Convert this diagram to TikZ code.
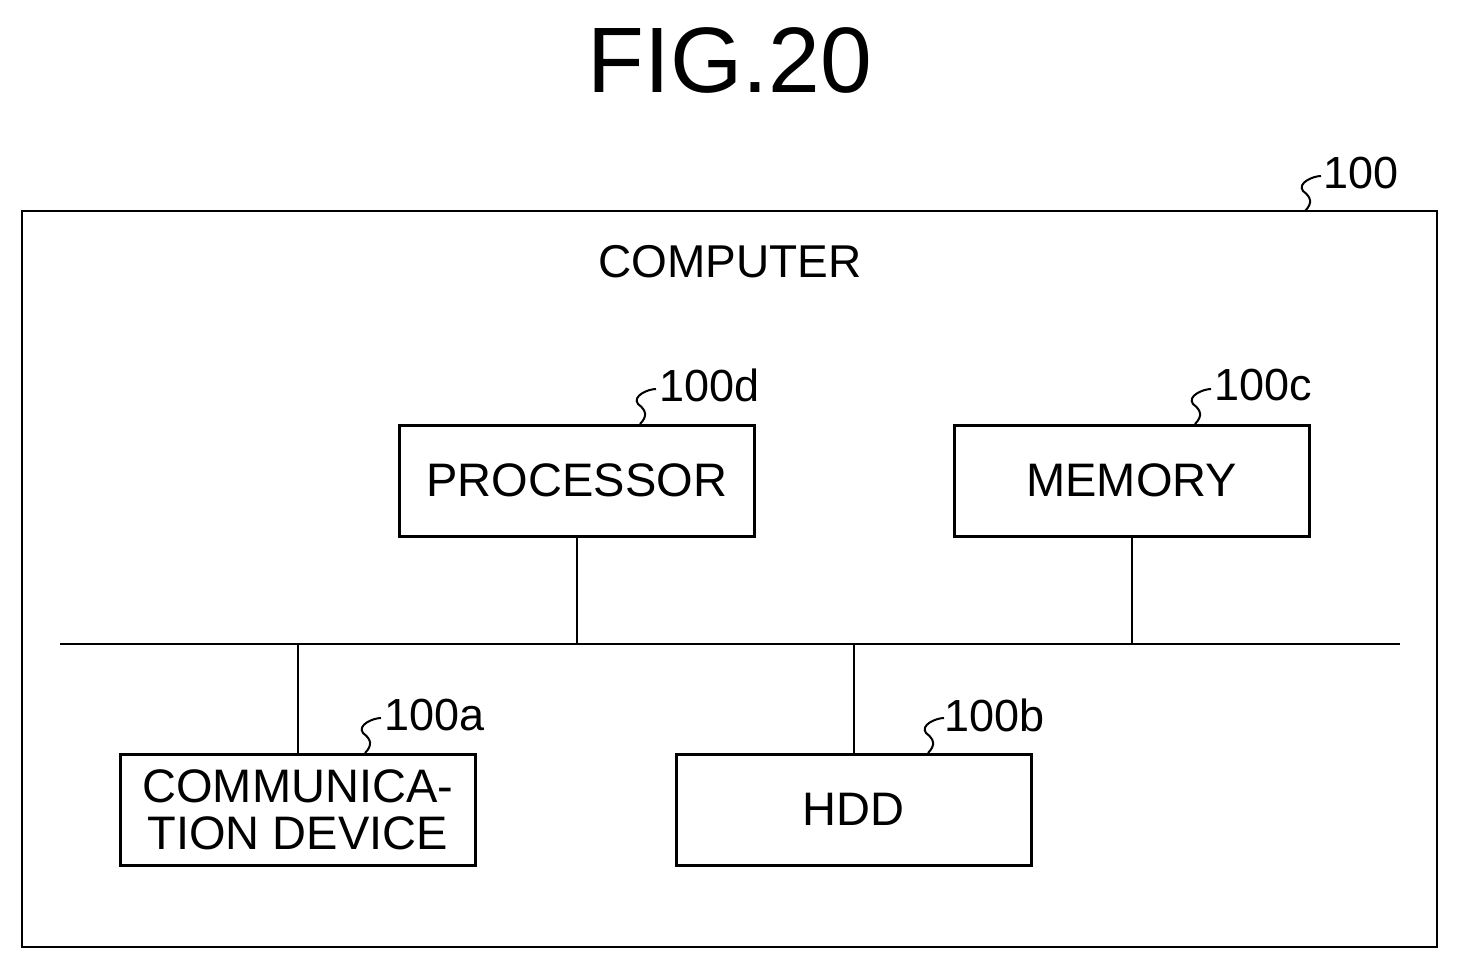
\documentclass[tikz,border=0pt]{standalone}
\usepackage{fontspec}
\setmainfont{Liberation Sans}
\begin{document}
\begin{tikzpicture}[x=1pt,y=-1pt,line width=2.6pt,
 box/.style={draw,line width=2.6pt,minimum width=355pt,minimum height=111pt,anchor=north west,font=\fontsize{47}{47}\selectfont,align=center,inner sep=0pt},
 lab/.style={font=\fontsize{45}{46}\selectfont,anchor=west,inner sep=0pt},
 sq/.style={line width=2pt}]
\useasboundingbox (0,0) rectangle (1460,971);
\node (title) at (730,60) {\fontsize{93}{95}\selectfont FIG.20};
\draw (22,211) rectangle (1437,947);
\node (comp) at (730,262) {\fontsize{46}{48}\selectfont COMPUTER};
\node[box] (proc) at (398,424) {PROCESSOR};
\node[box] (mem) at (953,424) {MEMORY};
\node[box] (comm) at (119,753) {COMMUNICA-\\TION DEVICE};
\node[box] (hdd) at (675,753) {HDD};
\coordinate (bl) at (60,644); \coordinate (br) at (1400,644);
\draw (bl) -- (br);
\draw (proc.south) -- (proc.south |- bl);
\draw (mem.south) -- (mem.south |- bl);
\draw (comm.north) -- (comm.north |- bl);
\draw (hdd.north) -- (hdd.north |- bl);
\node[lab] (l100) at (1322,173) {100};
\node[lab] (ld) at (658,385) {100d};
\node[lab] (lc) at (1213,385) {100c};
\node[lab] (la) at (383,715) {100a};
\node[lab] (lb) at (943,715) {100b};
\foreach \x/\y/\n in {1305/211/s0,640/424/sd,1195/424/sc,365/753/sa,928/753/sb}{
 \coordinate (\n) at (\x,\y);
 \draw[sq] (\n) .. controls +(8,-8) and +(8,6) .. +(-2,-20) .. controls +(-6,-8) and +(-8,0) .. +(16,-35);
}
\end{tikzpicture}
\end{document}
